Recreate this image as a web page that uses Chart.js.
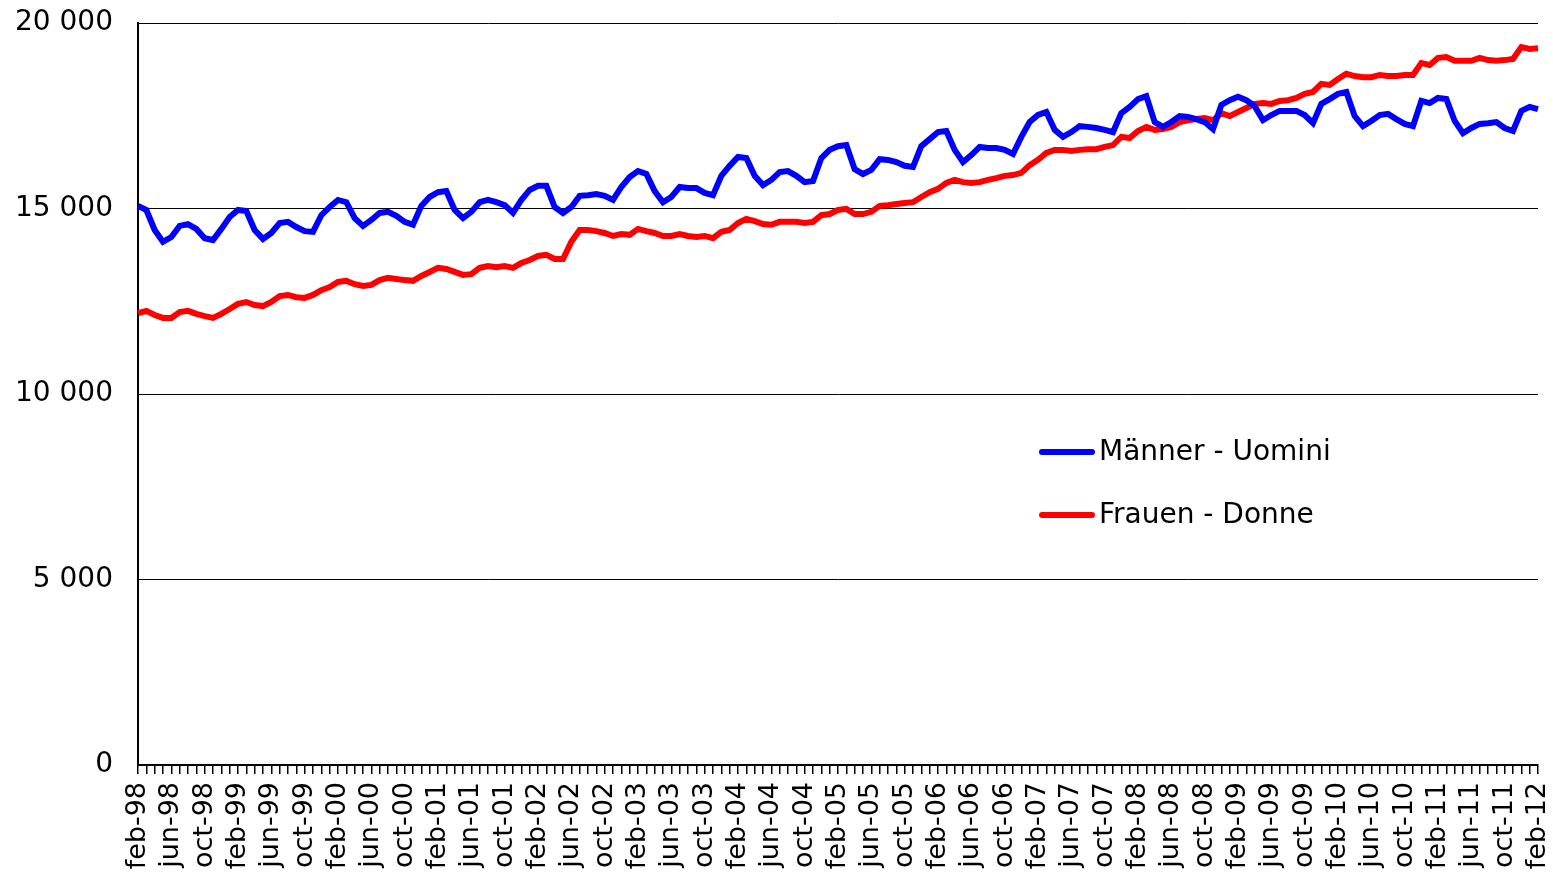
<!DOCTYPE html>
<html lang="de">
<head>
    <meta charset="UTF-8">
    <title>Männer - Uomini / Frauen - Donne</title>
    <style>
        body {
            margin: 0;
            background-color: white;
        }
        .chart-box {
            position: relative;
            width: 1553px;
            height: 877px;
        }
    </style>
</head>
<body>
    <div class="chart-box">
        <canvas id="lineChart"></canvas>
    </div>
    <script src="https://cdn.jsdelivr.net/npm/chart.js"></script>
    <script>
        // Monate feb-98 .. feb-12
        const monthNames = ['jan', 'feb', 'mar', 'apr', 'may', 'jun', 'jul', 'aug', 'sep', 'oct', 'nov', 'dec'];
        const firstYear = 1998;
        const lastYear = 2012;
        const months = [];
        for (let y = firstYear; y <= lastYear; y++) {
            for (let m = 0; m < 12; m++) {
                if (y === firstYear && m < 1) continue;
                if (y === lastYear && m > 1) continue;
                months.push(monthNames[m] + '-' + String(y).slice(2));
            }
        }

        const seriesNames = ['Männer - Uomini', 'Frauen - Donne'];

        const maenner = [
            15070, 14960, 14420, 14100, 14230, 14530, 14580, 14450, 14200, 14150, 14450, 14770,
            14960, 14930, 14420, 14180, 14340, 14610, 14640, 14500, 14390, 14370, 14820, 15040,
            15230, 15170, 14740, 14530, 14690, 14880, 14910, 14800, 14640, 14560, 15070, 15310,
            15440, 15470, 14960, 14740, 14910, 15170, 15230, 15170, 15090, 14880, 15230, 15500,
            15610, 15610, 15040, 14880, 15040, 15340, 15360, 15390, 15340, 15230, 15580, 15850,
            16010, 15930, 15470, 15170, 15310, 15580, 15550, 15550, 15420, 15360, 15880, 16150,
            16390, 16360, 15880, 15630, 15770, 15980, 16010, 15880, 15710, 15740, 16360, 16580,
            16680, 16710, 16060, 15930, 16040, 16330, 16310, 16250, 16150, 16120, 16680, 16870,
            17060, 17090, 16580, 16250, 16440, 16660, 16630, 16630, 16580, 16470, 16930, 17330,
            17520, 17600, 17120, 16930, 17060, 17220, 17200, 17170, 17120, 17060, 17570, 17740,
            17950, 18030, 17330, 17200, 17330, 17490, 17470, 17410, 17330, 17140, 17790, 17920,
            18010, 17920, 17760, 17380, 17520, 17630, 17630, 17630, 17520, 17300, 17820, 17950,
            18090, 18140, 17490, 17220, 17360, 17520, 17550, 17410, 17280, 17220, 17900, 17840,
            17980, 17950, 17360, 17030, 17170, 17280, 17300, 17330, 17170, 17090, 17630, 17740,
            17680
        ];

        const frauen = [
            12180, 12240, 12130, 12050, 12050, 12210, 12240, 12160, 12100, 12050, 12160, 12290,
            12430, 12480, 12400, 12370, 12480, 12640, 12670, 12610, 12590, 12670, 12800, 12880,
            13020, 13050, 12960, 12910, 12940, 13070, 13130, 13100, 13070, 13050, 13180, 13290,
            13400, 13370, 13290, 13210, 13230, 13400, 13450, 13420, 13450, 13400, 13530, 13610,
            13720, 13750, 13640, 13640, 14100, 14420, 14420, 14390, 14340, 14260, 14310, 14290,
            14450, 14390, 14340, 14260, 14260, 14310, 14260, 14230, 14260, 14200, 14370, 14420,
            14610, 14720, 14660, 14580, 14560, 14640, 14640, 14640, 14610, 14640, 14820, 14850,
            14960, 14990, 14850, 14850, 14910, 15070, 15090, 15120, 15150, 15170, 15310, 15440,
            15530, 15690, 15770, 15710, 15690, 15710, 15770, 15820, 15880, 15900, 15960, 16170,
            16310, 16500, 16580, 16580, 16550, 16580, 16600, 16600, 16660, 16710, 16930, 16900,
            17090, 17200, 17120, 17140, 17200, 17330, 17380, 17410, 17440, 17380, 17570, 17490,
            17600, 17710, 17820, 17840, 17820, 17900, 17920, 17980, 18090, 18140, 18360, 18330,
            18490, 18630, 18570, 18540, 18540, 18600, 18570, 18570, 18600, 18600, 18920, 18870,
            19060, 19080, 18980, 18980, 18980, 19060, 19000, 18980, 19000, 19030, 19350, 19300,
            19320
        ];

        const yTicks = [0, 5000, 10000, 15000, 20000];

        // Legende im Diagrammbereich
        const innerLegend = {
            id: 'innerLegend',
            afterDatasetsDraw(chart, args, opts) {
                const ctx = chart.ctx;
                ctx.save();
                chart.data.datasets.forEach((ds, i) => {
                    const y = opts.y + i * opts.gap;
                    ctx.strokeStyle = ds.borderColor;
                    ctx.lineWidth = 6;
                    ctx.lineCap = 'round';
                    ctx.beginPath();
                    ctx.moveTo(opts.x, y);
                    ctx.lineTo(opts.x + 50, y);
                    ctx.stroke();
                    ctx.fillStyle = '#000';
                    ctx.font = '28px "DejaVu Sans", sans-serif';
                    ctx.textBaseline = 'middle';
                    ctx.fillText(ds.label, opts.x + 57, y + 1);
                });
                ctx.restore();
            }
        };

        const ctx = document.getElementById('lineChart').getContext('2d');
        const lineChart = new Chart(ctx, {
            type: 'line',
            data: {
                labels: months,
                datasets: [{
                    label: seriesNames[0],
                    data: maenner,
                    borderColor: '#0000ff',
                    borderWidth: 6,
                    pointRadius: 0,
                    tension: 0
                }, {
                    label: seriesNames[1],
                    data: frauen,
                    borderColor: '#ff0000',
                    borderWidth: 6,
                    pointRadius: 0,
                    tension: 0
                }]
            },
            options: {
                responsive: true,
                maintainAspectRatio: false,
                animation: false,
                layout: {
                    padding: { top: 23, right: 15, left: 0, bottom: 0 }
                },
                plugins: {
                    legend: { display: false },
                    tooltip: { enabled: false },
                    innerLegend: { x: 1042, y: 452, gap: 63 }
                },
                scales: {
                    x: {
                        offset: false,
                        grid: {
                            drawOnChartArea: false,
                            drawTicks: true,
                            tickLength: 9,
                            color: '#000',
                            lineWidth: 1.5
                        },
                        border: { color: '#000', width: 2 },
                        ticks: {
                            autoSkip: false,
                            maxRotation: 90,
                            minRotation: 90,
                            padding: 8,
                            color: '#000',
                            font: { family: 'DejaVu Sans', size: 27 },
                            callback: function(value, index) {
                                return index % 4 === 0 ? months[index] : '';
                            }
                        },
                        afterFit: function(scale) {
                            scale.height = 112;
                            scale.paddingLeft = 0;
                            scale.paddingRight = 0;
                        }
                    },
                    y: {
                        min: 0,
                        max: 20000,
                        afterBuildTicks: function(scale) {
                            scale.ticks = yTicks.map(v => ({ value: v }));
                        },
                        grid: {
                            color: '#000',
                            lineWidth: 1,
                            drawTicks: false
                        },
                        border: { color: '#000', width: 2 },
                        ticks: {
                            padding: 25,
                            color: '#000',
                            font: { family: 'DejaVu Sans', size: 28 },
                            callback: function(value) {
                                return String(value).replace(/\B(?=(\d{3})+(?!\d))/g, ' ');
                            }
                        },
                        afterFit: function(scale) {
                            scale.width = 138;
                            scale.paddingTop = 0;
                            scale.paddingBottom = 0;
                        }
                    }
                }
            },
            plugins: [innerLegend]
        });
    </script>
</body>
</html>
